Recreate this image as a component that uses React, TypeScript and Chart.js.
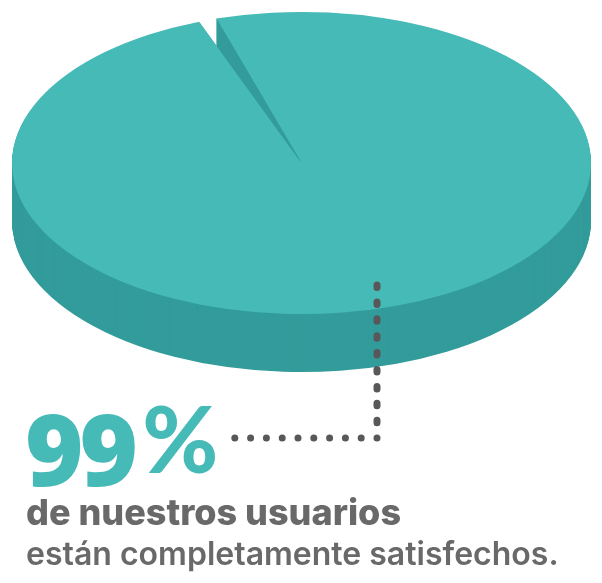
import React, { useEffect, useRef } from "react";
import { Chart, registerables } from "chart.js";

Chart.register(...registerables);

const categories = ["Satisfechos", "Resto"];
const shareValues = [99, 1];
const headlineNumber = "99";
const headlineUnit = "%";
const lineOne = "de nuestros usuarios";
const lineTwo = "están completamente satisfechos.";

const TOP = "#45BAB7";
const SIDE = "#339C9B";
const TEXT = "#696969";
const DOTS = "#58585A";
const TILT = 0.522;
const DEPTH = 58;
const CENTER_Y = 163;

const piePlugin = {
  id: "tiltedPie",
  beforeDatasetsDraw(chart: any) {
    const ctx = chart.ctx;
    const arcs = chart.getDatasetMeta(0).data;
    const place = (offset: number) => {
      ctx.translate(0, CENTER_Y + offset);
      ctx.scale(1, TILT);
      ctx.translate(0, -arcs[0].y);
    };
    // body
    for (let d = DEPTH; d >= 1; d--) {
      ctx.save();
      place(d);
      arcs.forEach((arc: any) => {
        const original = arc.options;
        arc.options = Object.assign(Object.create(original), { backgroundColor: SIDE });
        arc.draw(ctx);
        arc.options = original;
      });
      ctx.restore();
    }
    // top face
    ctx.save();
    place(0);
    arcs.forEach((arc: any) => arc.draw(ctx));
    // gap left of the wedge's far edge
    const gap = arcs[1];
    const edgeX = gap.x + gap.outerRadius * Math.cos(gap.endAngle);
    ctx.beginPath();
    ctx.rect(0, 0, edgeX, chart.height * 2);
    ctx.clip();
    const original = gap.options;
    gap.options = Object.assign(Object.create(original), { backgroundColor: "#FFFFFF" });
    gap.outerRadius += 3;
    gap.draw(ctx);
    gap.outerRadius -= 3;
    gap.options = original;
    ctx.restore();
    // dotted leader
    const x = arcs[0].x + 75.5;
    ctx.save();
    ctx.strokeStyle = DOTS;
    ctx.lineCap = "round";
    ctx.lineWidth = 7;
    ctx.setLineDash([2.5, 14.4]);
    ctx.beginPath();
    ctx.moveTo(x, 285);
    ctx.lineTo(x, 432);
    ctx.stroke();
    ctx.setLineDash([0, 15.8]);
    ctx.beginPath();
    ctx.moveTo(x, 438);
    ctx.lineTo(234, 438);
    ctx.stroke();
    ctx.restore();
    return false;
  },
};

export default function App() {
  const ref = useRef<HTMLCanvasElement>(null);
  useEffect(() => {
    const chart = new Chart(ref.current!, {
      type: "pie",
      data: {
        labels: categories,
        datasets: [{ data: shareValues, backgroundColor: [TOP, SIDE], borderWidth: 0 }],
      },
      options: {
        responsive: false,
        animation: false,
        rotation: -17.1,
        radius: 289.5,
        layout: { padding: { left: 1 } },
        plugins: { legend: { display: false }, tooltip: { enabled: false } },
      },
      plugins: [piePlugin],
    } as any);
    return () => chart.destroy();
  }, []);

  const text: React.CSSProperties = {
    position: "absolute",
    whiteSpace: "nowrap",
    fontFamily: "Inter, sans-serif",
    color: TEXT,
    lineHeight: 1,
  };

  return (
    <div style={{ position: "absolute", left: 0, top: 0, width: 602, height: 583, overflow: "hidden", background: "#fff" }}>
      <canvas ref={ref} width={602} height={583} style={{ display: "block" }} />
      <div style={{ ...text, left: 25, top: 397, fontFamily: "'Open Sans', sans-serif", fontSize: 100, fontWeight: 800, color: TOP, letterSpacing: -4 }}>
        {headlineNumber}
        <span style={{ position: "relative", top: -13, left: 8, fontFamily: "Lato, sans-serif", fontSize: 92, fontWeight: 900, letterSpacing: 0 }}>{headlineUnit}</span>
      </div>
      <div style={{ ...text, left: 26, top: 494, fontSize: 36, fontWeight: 800 }}>{lineOne}</div>
      <div style={{ ...text, left: 26, top: 538, fontSize: 32, fontWeight: 600 }}>{lineTwo}</div>
    </div>
  );
}
